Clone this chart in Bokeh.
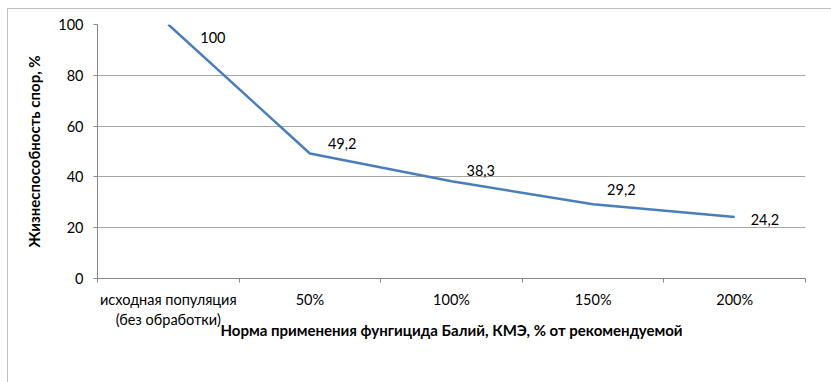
from bokeh.plotting import figure
from bokeh.models import ColumnDataSource, FixedTicker, Legend, LegendItem
from bokeh.core.properties import value
from bokeh.embed import file_html
from bokeh.resources import INLINE

categories = ["исходная популяция\n(без обработки)", "50%", "100%", "150%", "200%"]
viability = [100, 49.2, 38.3, 29.2, 24.2]
value_labels = ["100", "49,2", "38,3", "29,2", "24,2"]
series_name = "P. hordei"
y_ticks = [0, 20, 40, 60, 80, 100]

# label placement (style)
lab_dx = [32, 18, 15, 14, 16]
lab_dy = [13, -10, -11, -15, 2]

FONT = "Lato"
FS = "14.5px"
TFS = "15px"
LINE_COLOR = "#4A7EBB"
GRID = "#A6A6A6"

xs = list(range(len(categories)))
src = ColumnDataSource(dict(x=xs, y=viability, lab=value_labels, dx=lab_dx, dy=lab_dy))

p = figure(frame_width=708, frame_height=254, output_backend="svg", toolbar_location=None,
           x_range=(-0.5, len(categories) - 0.5), y_range=(0, 100),
           min_border_left=89, min_border_right=26, min_border_top=15, min_border_bottom=0)
p.styles = {"margin-left": "7px", "margin-top": "8px",
            "border-left": "1px solid #BFBFBF", "border-top": "1px solid #BFBFBF"}
p.outline_line_color = None
p.background_fill_color = "white"
p.border_fill_color = "white"

r = p.line("x", "y", source=src, line_color=LINE_COLOR, line_width=2.5)
p.text("x", "y", text="lab", source=src, x_offset="dx", y_offset="dy",
       text_font=value(FONT), text_font_size=FS, text_color="#000000",
       text_align="left", text_baseline="middle")

# x axis
xa = p.xaxis[0]
xa.ticker = FixedTicker(ticks=xs, minor_ticks=[i - 0.5 for i in range(len(categories) + 1)])
xa.major_label_overrides = {i: c for i, c in enumerate(categories)}
xa.major_tick_line_color = None
xa.major_tick_out = 0
xa.major_tick_in = 0
xa.minor_tick_line_color = "#868686"
xa.minor_tick_out = 4
xa.minor_tick_in = 0
xa.axis_line_color = "#868686"
xa.major_label_text_font = FONT
xa.major_label_text_font_size = FS
xa.major_label_text_color = "#000000"
xa.major_label_standoff = 8
xa.axis_label = "Норма применения фунгицида Балий, КМЭ, % от рекомендуемой"
xa.axis_label_text_font = FONT
xa.axis_label_text_font_size = TFS
xa.axis_label_text_font_style = "bold"
xa.axis_label_text_color = "#000000"
xa.axis_label_standoff = -10

# y axis
ya = p.yaxis[0]
ya.ticker = FixedTicker(ticks=y_ticks)
ya.axis_line_color = "#868686"
ya.major_tick_line_color = "#868686"
ya.major_tick_out = 4
ya.major_tick_in = 0
ya.minor_tick_line_color = None
ya.major_label_text_font = FONT
ya.major_label_text_font_size = FS
ya.major_label_text_color = "#000000"
ya.major_label_standoff = 10
ya.axis_label = "Жизнеспособность спор, %"
ya.axis_label_text_font = FONT
ya.axis_label_text_font_size = TFS
ya.axis_label_text_font_style = "bold"
ya.axis_label_text_color = "#000000"
ya.axis_label_standoff = 12

p.xgrid.grid_line_color = None
p.ygrid.grid_line_color = GRID
p.ygrid.grid_line_width = 1

legend = Legend(items=[LegendItem(label=series_name, renderers=[r])],
                location="top_center", orientation="horizontal",
                glyph_width=35, glyph_height=20, label_height=20,
                label_standoff=2, label_width=219,
                padding=0, margin=0,
                border_line_color=None, background_fill_alpha=0,
                label_text_font=FONT, label_text_font_size=FS, label_text_color="#000000")
p.add_layout(legend, "below")

open("out.html", "w").write(file_html(p, INLINE))
